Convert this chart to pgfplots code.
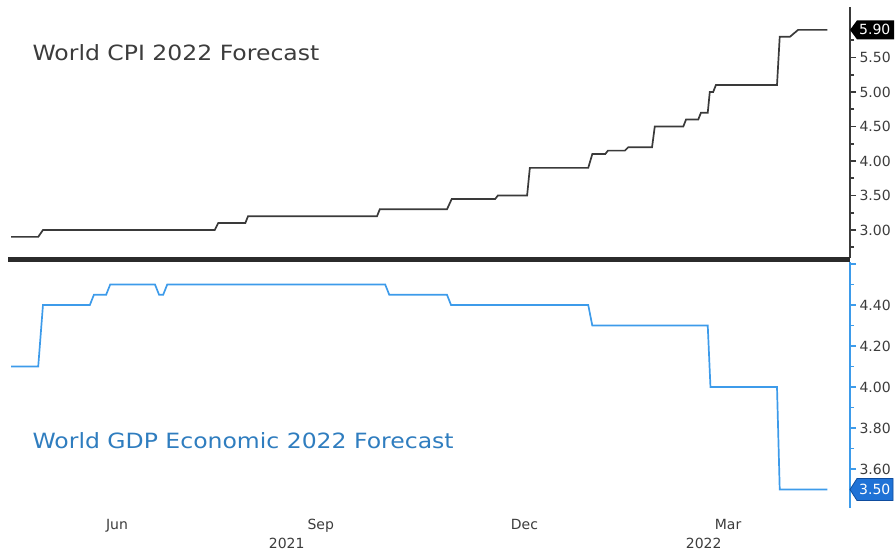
\documentclass[border=0pt]{standalone}
\usepackage{pgfplots}
\pgfplotsset{compat=1.18}
\usepackage{fontspec}
\setmainfont{DejaVu Sans}
\newfontfamily\titlefont[FakeStretch=1.12]{DejaVu Sans}

\definecolor{cpiline}{HTML}{3A3A3A}
\definecolor{gdpline}{HTML}{3D9BEA}
\definecolor{gdptext}{HTML}{2F7DBF}
\definecolor{axisgray}{HTML}{3A3A3A}
\definecolor{labelgray}{HTML}{3C3C3C}
\definecolor{tagblue}{HTML}{1F72D6}
\definecolor{tagedge}{HTML}{0E4C9E}
\definecolor{sepbar}{HTML}{2B2B2B}

\newcommand{\ticksize}{\fontsize{14}{16}\selectfont}
\newcommand{\titlesize}{\titlefont\fontsize{21}{25}\selectfont}

\pgfplotsset{
  panel/.style={
    scale only axis, width=842pt,
    xmin=4.395, xmax=16.795,
    axis y line=right, axis x line=bottom,
    x axis line style={draw=none},
    xtick style={draw=none},
    y axis line style={-, line width=1.2pt},
    tick align=outside,
    major tick length=6pt, minor tick length=4pt,
    ytick style={line width=1.8pt},
    minor tick style={line width=0.8pt},
    yticklabel style={font=\ticksize, text=labelgray,
      /pgf/number format/.cd, fixed, fixed zerofill, precision=2, assume math mode=true},
    xticklabel style={font=\ticksize, text=labelgray, yshift=-2pt},
    clip=false,
  }
}

\begin{document}
\begin{tikzpicture}
\useasboundingbox (0,0) rectangle (895pt,554pt);

% CPI panel
\begin{axis}[panel,
  at={(8pt,296pt)}, anchor=south west, height=251pt,
  ymin=2.594, ymax=6.232,
  ytick={3,3.5,4,4.5,5,5.5},
  minor ytick={2.75,3.25,3.75,4.25,4.75,5.25,5.75},
  xtick=\empty,
  y axis line style={draw=axisgray},
  ytick style={draw=axisgray},
]
\addplot[cpiline, line width=1.7pt] coordinates {
  (4.44,2.90) (4.84,2.90) (4.91,3.00) (7.44,3.00) (7.49,3.10) (7.89,3.10)
  (7.93,3.20) (9.83,3.20) (9.87,3.30) (10.86,3.30) (10.93,3.45) (11.57,3.45)
  (11.61,3.50) (12.04,3.50) (12.08,3.90) (12.94,3.90) (13.00,4.10) (13.19,4.10)
  (13.23,4.15) (13.48,4.15) (13.53,4.20) (13.88,4.20) (13.92,4.50) (14.34,4.50)
  (14.38,4.60) (14.56,4.60) (14.60,4.70) (14.70,4.70) (14.73,5.00) (14.78,5.00)
  (14.82,5.10) (15.72,5.10) (15.76,5.80) (15.91,5.80) (16.03,5.90) (16.46,5.90)
};
\node[anchor=west, font=\titlesize, text=labelgray]
  at (rel axis cs:0.025,0.82) {World CPI 2022 Forecast};
\coordinate (cpitag) at (axis cs:16.795,5.9);
\end{axis}

% separator
\fill[sepbar] (8pt,292pt) rectangle (850pt,297pt);

% GDP panel
\begin{axis}[panel,
  at={(8pt,46pt)}, anchor=south west, height=246pt,
  ymin=3.41, ymax=4.61,
  ytick={3.4,3.6,3.8,4.0,4.2,4.4,4.6},
  yticklabels={,3.60,3.80,4.00,4.20,4.40,},
  minor ytick={3.5,3.7,3.9,4.1,4.3,4.5},
  xtick={6,9,12,15}, xticklabels={Jun,Sep,Dec,Mar},
  y axis line style={draw=gdpline},
  ytick style={draw=gdpline},
  minor tick style={draw=gdpline},
]
\addplot[gdpline, line width=1.7pt] coordinates {
  (4.44,4.10) (4.84,4.10) (4.91,4.40) (5.60,4.40) (5.66,4.45) (5.84,4.45)
  (5.90,4.50) (6.56,4.50) (6.62,4.45) (6.68,4.45) (6.74,4.50) (9.95,4.50)
  (10.01,4.45) (10.86,4.45) (10.92,4.40) (12.94,4.40) (13.00,4.30) (14.70,4.30)
  (14.74,4.00) (15.72,4.00) (15.76,3.50) (16.46,3.50)
};
\node[anchor=west, font=\titlesize, text=gdptext]
  at (rel axis cs:0.025,0.272) {World GDP Economic 2022 Forecast};
\coordinate (gdptag) at (axis cs:16.795,3.5);
\node[font=\ticksize, text=labelgray] at ([yshift=-35pt]axis cs:8.5,3.41) {2021};
\node[font=\ticksize, text=labelgray] at ([yshift=-35pt]axis cs:14.64,3.41) {2022};
\end{axis}

% value tags
\fill[black] (cpitag) -- ++(7pt,9.5pt) -- ++(37pt,0) -- ++(0,-19pt)
  -- ++(-37pt,0) -- cycle;
\node[anchor=west, font=\ticksize, text=white, inner sep=0pt]
  at ([xshift=9pt]cpitag) {5.90};
\filldraw[fill=tagblue, draw=tagedge, line width=0.8pt]
  (gdptag) -- ++(7pt,11pt) -- ++(36pt,0) -- ++(0,-22pt) -- ++(-36pt,0) -- cycle;
\node[anchor=west, font=\ticksize, text=white, inner sep=0pt]
  at ([xshift=9pt]gdptag) {3.50};
\end{tikzpicture}
\end{document}
